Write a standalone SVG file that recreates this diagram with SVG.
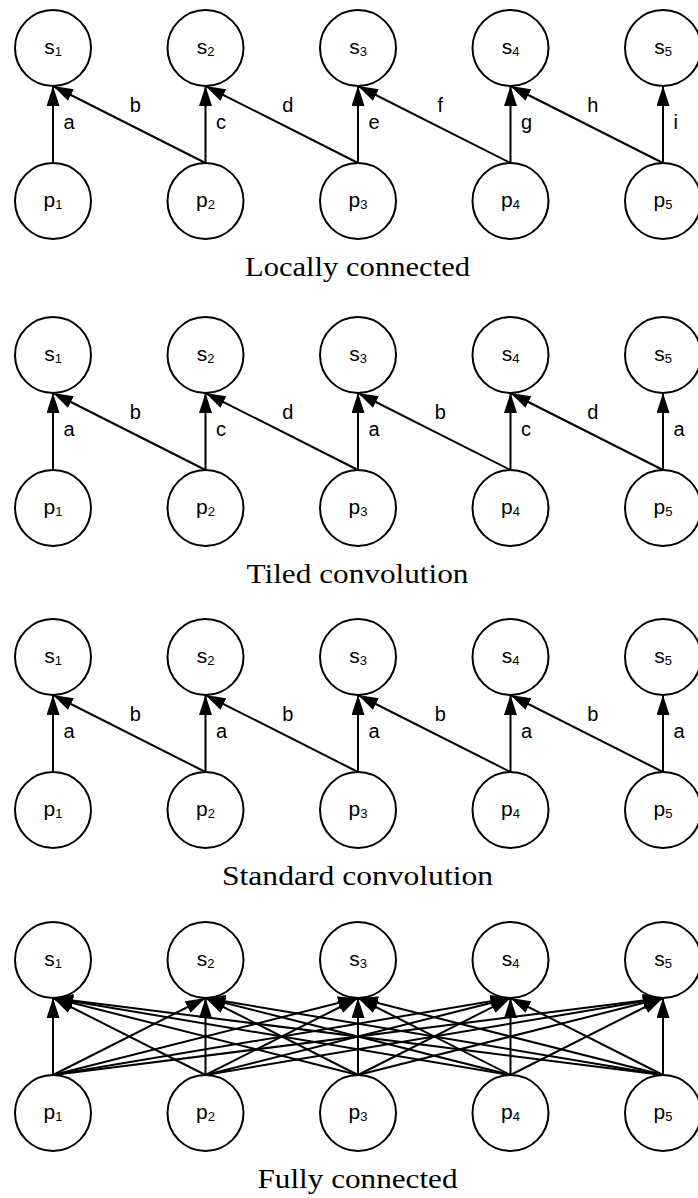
<svg xmlns="http://www.w3.org/2000/svg" width="698" height="1198" viewBox="0 0 698 1198">
<style>
.n{fill:#fff;stroke:#000;stroke-width:2}
.nl{font-family:"Liberation Sans",Arial,sans-serif;font-size:21px;fill:#000;text-anchor:middle}
.sub{font-size:13px}
.el{font-family:"Liberation Sans",Arial,sans-serif;font-size:20px;fill:#000}
.ed{text-anchor:middle}
.cap{font-family:"Liberation Serif","Times New Roman",serif;font-size:28px;fill:#000;text-anchor:middle}
.c line{stroke:#000;stroke-width:2;marker-end:url(#ah)}
</style>
<defs>
<marker id="ah" viewBox="0 0 20 13" refX="20" refY="6.5" markerWidth="20" markerHeight="13" markerUnits="userSpaceOnUse" orient="auto"><path d="M0,0 L20,6.5 L0,13 Z" fill="#000"/></marker>
</defs>

<g id="connectors" class="c">
<!-- panel 1 -->
<line x1="53" y1="163" x2="53" y2="86"/>
<line x1="205.5" y1="163" x2="205.5" y2="86"/>
<line x1="358" y1="163" x2="358" y2="86"/>
<line x1="510.5" y1="163" x2="510.5" y2="86"/>
<line x1="663" y1="163" x2="663" y2="86"/>
<line x1="205.5" y1="163" x2="53" y2="86"/>
<line x1="358" y1="163" x2="205.5" y2="86"/>
<line x1="510.5" y1="163" x2="358" y2="86"/>
<line x1="663" y1="163" x2="510.5" y2="86"/>
<!-- panel 2 -->
<line x1="53" y1="470" x2="53" y2="393"/>
<line x1="205.5" y1="470" x2="205.5" y2="393"/>
<line x1="358" y1="470" x2="358" y2="393"/>
<line x1="510.5" y1="470" x2="510.5" y2="393"/>
<line x1="663" y1="470" x2="663" y2="393"/>
<line x1="205.5" y1="470" x2="53" y2="393"/>
<line x1="358" y1="470" x2="205.5" y2="393"/>
<line x1="510.5" y1="470" x2="358" y2="393"/>
<line x1="663" y1="470" x2="510.5" y2="393"/>
<!-- panel 3 -->
<line x1="53" y1="772" x2="53" y2="695"/>
<line x1="205.5" y1="772" x2="205.5" y2="695"/>
<line x1="358" y1="772" x2="358" y2="695"/>
<line x1="510.5" y1="772" x2="510.5" y2="695"/>
<line x1="663" y1="772" x2="663" y2="695"/>
<line x1="205.5" y1="772" x2="53" y2="695"/>
<line x1="358" y1="772" x2="205.5" y2="695"/>
<line x1="510.5" y1="772" x2="358" y2="695"/>
<line x1="663" y1="772" x2="510.5" y2="695"/>
<!-- panel 4: fully connected -->
<line x1="53" y1="1075" x2="53" y2="998"/>
<line x1="53" y1="1075" x2="205.5" y2="998"/>
<line x1="53" y1="1075" x2="358" y2="998"/>
<line x1="53" y1="1075" x2="510.5" y2="998"/>
<line x1="53" y1="1075" x2="663" y2="998"/>
<line x1="205.5" y1="1075" x2="53" y2="998"/>
<line x1="205.5" y1="1075" x2="205.5" y2="998"/>
<line x1="205.5" y1="1075" x2="358" y2="998"/>
<line x1="205.5" y1="1075" x2="510.5" y2="998"/>
<line x1="205.5" y1="1075" x2="663" y2="998"/>
<line x1="358" y1="1075" x2="53" y2="998"/>
<line x1="358" y1="1075" x2="205.5" y2="998"/>
<line x1="358" y1="1075" x2="358" y2="998"/>
<line x1="358" y1="1075" x2="510.5" y2="998"/>
<line x1="358" y1="1075" x2="663" y2="998"/>
<line x1="510.5" y1="1075" x2="53" y2="998"/>
<line x1="510.5" y1="1075" x2="205.5" y2="998"/>
<line x1="510.5" y1="1075" x2="358" y2="998"/>
<line x1="510.5" y1="1075" x2="510.5" y2="998"/>
<line x1="510.5" y1="1075" x2="663" y2="998"/>
<line x1="663" y1="1075" x2="53" y2="998"/>
<line x1="663" y1="1075" x2="205.5" y2="998"/>
<line x1="663" y1="1075" x2="358" y2="998"/>
<line x1="663" y1="1075" x2="510.5" y2="998"/>
<line x1="663" y1="1075" x2="663" y2="998"/>
</g>

<g id="edge-labels">
<text class="el" x="63.5" y="128.5">a</text>
<text class="el" x="216" y="128.5">c</text>
<text class="el" x="368.5" y="128.5">e</text>
<text class="el" x="521" y="128.5">g</text>
<text class="el" x="673.5" y="128.5">i</text>
<text class="el ed" x="135.25" y="112">b</text>
<text class="el ed" x="287.75" y="112">d</text>
<text class="el ed" x="440.25" y="112">f</text>
<text class="el ed" x="592.75" y="112">h</text>

<text class="el" x="63.5" y="435.5">a</text>
<text class="el" x="216" y="435.5">c</text>
<text class="el" x="368.5" y="435.5">a</text>
<text class="el" x="521" y="435.5">c</text>
<text class="el" x="673.5" y="435.5">a</text>
<text class="el ed" x="135.25" y="419">b</text>
<text class="el ed" x="287.75" y="419">d</text>
<text class="el ed" x="440.25" y="419">b</text>
<text class="el ed" x="592.75" y="419">d</text>

<text class="el" x="63.5" y="737.5">a</text>
<text class="el" x="216" y="737.5">a</text>
<text class="el" x="368.5" y="737.5">a</text>
<text class="el" x="521" y="737.5">a</text>
<text class="el" x="673.5" y="737.5">a</text>
<text class="el ed" x="135.25" y="721">b</text>
<text class="el ed" x="287.75" y="721">b</text>
<text class="el ed" x="440.25" y="721">b</text>
<text class="el ed" x="592.75" y="721">b</text>
</g>

<!-- panel 1 nodes -->
<g id="lc-s1"><circle class="n" cx="53" cy="48" r="38"/><text class="nl" x="53" y="54">s<tspan class="sub" dy="2">1</tspan></text></g>
<g id="lc-s2"><circle class="n" cx="205.5" cy="48" r="38"/><text class="nl" x="205.5" y="54">s<tspan class="sub" dy="2">2</tspan></text></g>
<g id="lc-s3"><circle class="n" cx="358" cy="48" r="38"/><text class="nl" x="358" y="54">s<tspan class="sub" dy="2">3</tspan></text></g>
<g id="lc-s4"><circle class="n" cx="510.5" cy="48" r="38"/><text class="nl" x="510.5" y="54">s<tspan class="sub" dy="2">4</tspan></text></g>
<g id="lc-s5"><circle class="n" cx="663" cy="48" r="38"/><text class="nl" x="663" y="54">s<tspan class="sub" dy="2">5</tspan></text></g>
<g id="lc-p1"><circle class="n" cx="53" cy="201" r="38"/><text class="nl" x="53" y="207">p<tspan class="sub" dy="2">1</tspan></text></g>
<g id="lc-p2"><circle class="n" cx="205.5" cy="201" r="38"/><text class="nl" x="205.5" y="207">p<tspan class="sub" dy="2">2</tspan></text></g>
<g id="lc-p3"><circle class="n" cx="358" cy="201" r="38"/><text class="nl" x="358" y="207">p<tspan class="sub" dy="2">3</tspan></text></g>
<g id="lc-p4"><circle class="n" cx="510.5" cy="201" r="38"/><text class="nl" x="510.5" y="207">p<tspan class="sub" dy="2">4</tspan></text></g>
<g id="lc-p5"><circle class="n" cx="663" cy="201" r="38"/><text class="nl" x="663" y="207">p<tspan class="sub" dy="2">5</tspan></text></g>
<text id="cap-locally" class="cap" x="357.5" y="276" textLength="225" lengthAdjust="spacingAndGlyphs">Locally connected</text>

<!-- panel 2 nodes -->
<g id="tc-s1"><circle class="n" cx="53" cy="355" r="38"/><text class="nl" x="53" y="361">s<tspan class="sub" dy="2">1</tspan></text></g>
<g id="tc-s2"><circle class="n" cx="205.5" cy="355" r="38"/><text class="nl" x="205.5" y="361">s<tspan class="sub" dy="2">2</tspan></text></g>
<g id="tc-s3"><circle class="n" cx="358" cy="355" r="38"/><text class="nl" x="358" y="361">s<tspan class="sub" dy="2">3</tspan></text></g>
<g id="tc-s4"><circle class="n" cx="510.5" cy="355" r="38"/><text class="nl" x="510.5" y="361">s<tspan class="sub" dy="2">4</tspan></text></g>
<g id="tc-s5"><circle class="n" cx="663" cy="355" r="38"/><text class="nl" x="663" y="361">s<tspan class="sub" dy="2">5</tspan></text></g>
<g id="tc-p1"><circle class="n" cx="53" cy="508" r="38"/><text class="nl" x="53" y="514">p<tspan class="sub" dy="2">1</tspan></text></g>
<g id="tc-p2"><circle class="n" cx="205.5" cy="508" r="38"/><text class="nl" x="205.5" y="514">p<tspan class="sub" dy="2">2</tspan></text></g>
<g id="tc-p3"><circle class="n" cx="358" cy="508" r="38"/><text class="nl" x="358" y="514">p<tspan class="sub" dy="2">3</tspan></text></g>
<g id="tc-p4"><circle class="n" cx="510.5" cy="508" r="38"/><text class="nl" x="510.5" y="514">p<tspan class="sub" dy="2">4</tspan></text></g>
<g id="tc-p5"><circle class="n" cx="663" cy="508" r="38"/><text class="nl" x="663" y="514">p<tspan class="sub" dy="2">5</tspan></text></g>
<text id="cap-tiled" class="cap" x="357.5" y="583" textLength="222" lengthAdjust="spacingAndGlyphs">Tiled convolution</text>

<!-- panel 3 nodes -->
<g id="sc-s1"><circle class="n" cx="53" cy="657" r="38"/><text class="nl" x="53" y="663">s<tspan class="sub" dy="2">1</tspan></text></g>
<g id="sc-s2"><circle class="n" cx="205.5" cy="657" r="38"/><text class="nl" x="205.5" y="663">s<tspan class="sub" dy="2">2</tspan></text></g>
<g id="sc-s3"><circle class="n" cx="358" cy="657" r="38"/><text class="nl" x="358" y="663">s<tspan class="sub" dy="2">3</tspan></text></g>
<g id="sc-s4"><circle class="n" cx="510.5" cy="657" r="38"/><text class="nl" x="510.5" y="663">s<tspan class="sub" dy="2">4</tspan></text></g>
<g id="sc-s5"><circle class="n" cx="663" cy="657" r="38"/><text class="nl" x="663" y="663">s<tspan class="sub" dy="2">5</tspan></text></g>
<g id="sc-p1"><circle class="n" cx="53" cy="810" r="38"/><text class="nl" x="53" y="816">p<tspan class="sub" dy="2">1</tspan></text></g>
<g id="sc-p2"><circle class="n" cx="205.5" cy="810" r="38"/><text class="nl" x="205.5" y="816">p<tspan class="sub" dy="2">2</tspan></text></g>
<g id="sc-p3"><circle class="n" cx="358" cy="810" r="38"/><text class="nl" x="358" y="816">p<tspan class="sub" dy="2">3</tspan></text></g>
<g id="sc-p4"><circle class="n" cx="510.5" cy="810" r="38"/><text class="nl" x="510.5" y="816">p<tspan class="sub" dy="2">4</tspan></text></g>
<g id="sc-p5"><circle class="n" cx="663" cy="810" r="38"/><text class="nl" x="663" y="816">p<tspan class="sub" dy="2">5</tspan></text></g>
<text id="cap-standard" class="cap" x="357.5" y="885" textLength="271" lengthAdjust="spacingAndGlyphs">Standard convolution</text>

<!-- panel 4 nodes -->
<g id="fc-s1"><circle class="n" cx="53" cy="960" r="38"/><text class="nl" x="53" y="966">s<tspan class="sub" dy="2">1</tspan></text></g>
<g id="fc-s2"><circle class="n" cx="205.5" cy="960" r="38"/><text class="nl" x="205.5" y="966">s<tspan class="sub" dy="2">2</tspan></text></g>
<g id="fc-s3"><circle class="n" cx="358" cy="960" r="38"/><text class="nl" x="358" y="966">s<tspan class="sub" dy="2">3</tspan></text></g>
<g id="fc-s4"><circle class="n" cx="510.5" cy="960" r="38"/><text class="nl" x="510.5" y="966">s<tspan class="sub" dy="2">4</tspan></text></g>
<g id="fc-s5"><circle class="n" cx="663" cy="960" r="38"/><text class="nl" x="663" y="966">s<tspan class="sub" dy="2">5</tspan></text></g>
<g id="fc-p1"><circle class="n" cx="53" cy="1113" r="38"/><text class="nl" x="53" y="1119">p<tspan class="sub" dy="2">1</tspan></text></g>
<g id="fc-p2"><circle class="n" cx="205.5" cy="1113" r="38"/><text class="nl" x="205.5" y="1119">p<tspan class="sub" dy="2">2</tspan></text></g>
<g id="fc-p3"><circle class="n" cx="358" cy="1113" r="38"/><text class="nl" x="358" y="1119">p<tspan class="sub" dy="2">3</tspan></text></g>
<g id="fc-p4"><circle class="n" cx="510.5" cy="1113" r="38"/><text class="nl" x="510.5" y="1119">p<tspan class="sub" dy="2">4</tspan></text></g>
<g id="fc-p5"><circle class="n" cx="663" cy="1113" r="38"/><text class="nl" x="663" y="1119">p<tspan class="sub" dy="2">5</tspan></text></g>
<text id="cap-fully" class="cap" x="357.5" y="1188" textLength="200" lengthAdjust="spacingAndGlyphs">Fully connected</text>
</svg>
